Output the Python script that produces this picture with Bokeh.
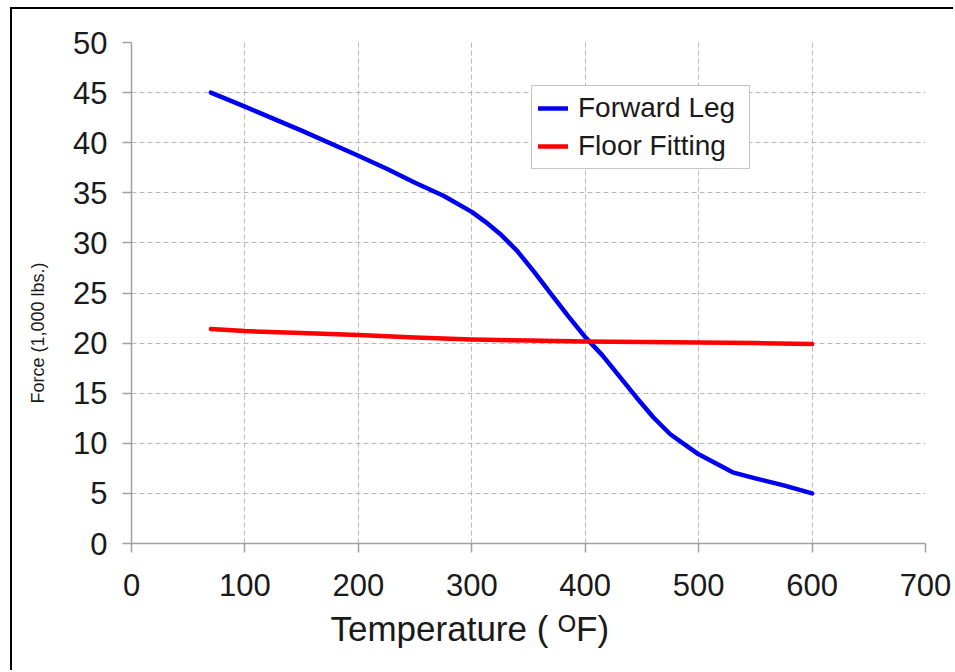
from bokeh.plotting import figure
from bokeh.models import Range1d, FixedTicker, Legend, LegendItem, Title
from bokeh.embed import file_html
from bokeh.resources import INLINE

# Data
temp_forward = [70, 100, 150, 200, 225, 250, 275, 300, 312, 325, 340, 355, 370, 385, 400, 415,
                430, 445, 460, 475, 490, 500, 515, 530, 550, 575, 600]
force_forward = [45.0, 43.6, 41.2, 38.7, 37.4, 36.0, 34.7, 33.1, 32.1, 30.9, 29.2, 27.1, 24.9,
                 22.7, 20.6, 18.8, 16.7, 14.6, 12.6, 10.9, 9.7, 8.9, 8.0, 7.1, 6.5, 5.8, 5.0]

temp_floor = [70, 100, 150, 200, 250, 300, 350, 400, 450, 500, 550, 600]
force_floor = [21.4, 21.2, 21.0, 20.8, 20.55, 20.35, 20.25, 20.15, 20.1, 20.05, 20.0, 19.9]

x_ticks = [0, 100, 200, 300, 400, 500, 600, 700]
y_ticks = [0, 5, 10, 15, 20, 25, 30, 35, 40, 45, 50]

x_title = "Temperature ( \u1D3CF)"
y_title = "Force (1,000 lbs.)"

FONT = "Liberation Sans"
GRID = "#b8b8b8"
AXIS = "#a0a0a0"

p = figure(width=953, height=670, output_backend="svg", toolbar_location=None,
           x_range=Range1d(0, 700), y_range=Range1d(0, 50),
           min_border_left=131, min_border_top=42, min_border_right=28, min_border_bottom=127)
p.outline_line_color = None
p.background_fill_color = "white"
p.border_fill_alpha = 0
# black page frame (top and left edges) drawn behind the transparent canvas border
p.styles = {
    "background-color": "white",
    "background-image": "linear-gradient(#000, #000), linear-gradient(#000, #000)",
    "background-position": "10px 7px, 10px 7px",
    "background-size": "2px 1000px, 2000px 2px",
    "background-repeat": "no-repeat",
}

p.xaxis.ticker = FixedTicker(ticks=x_ticks)
p.yaxis.ticker = FixedTicker(ticks=y_ticks)
for ax in (p.xaxis[0], p.yaxis[0]):
    ax.axis_line_color = AXIS
    ax.axis_line_width = 1.5
    ax.major_tick_line_color = AXIS
    ax.major_tick_line_width = 1.5
    ax.major_tick_in = 0
    ax.major_tick_out = 9
    ax.minor_tick_line_color = None
    ax.major_label_text_font = FONT
    ax.major_label_text_font_size = "31px"
    ax.major_label_text_color = "#1a1a1a"
p.xaxis.major_label_standoff = 21
p.yaxis.major_label_standoff = 15

# axis titles (offset from centre as in the reference)
xt = Title(text=x_title, align="left", offset=199, text_font=FONT, text_font_size="35px",
           text_font_style="normal", text_color="#1a1a1a", standoff=16)
p.add_layout(xt, "below")
yt = Title(text=y_title, align="left", offset=140, text_font=FONT, text_font_size="18px",
           text_font_style="normal", text_color="#1a1a1a", standoff=45)
p.add_layout(yt, "left")

for g in (p.xgrid[0], p.ygrid[0]):
    g.grid_line_color = GRID
    g.grid_line_dash = "5 3"
    g.grid_line_width = 1

r1 = p.line(temp_forward, force_forward, line_color="#0000F0", line_width=4.5, line_join="round", line_cap="round")
r2 = p.line(temp_floor, force_floor, line_color="#FF0000", line_width=4.5, line_join="round", line_cap="round")

legend = Legend(items=[LegendItem(label="Forward Leg", renderers=[r1]),
                       LegendItem(label="Floor Fitting", renderers=[r2])],
                location=(400, 374))
legend.label_text_font = FONT
legend.label_text_font_size = "28px"
legend.label_text_color = "#1a1a1a"
legend.border_line_color = "#8c8c8c"
legend.border_line_width = 1
legend.background_fill_color = "white"
legend.background_fill_alpha = 1
legend.padding = 6
legend.spacing = 6
legend.glyph_width = 30
legend.glyph_height = 30
legend.label_standoff = 10
legend.label_width = 165
legend.margin = 0
p.add_layout(legend, "center")

open("out.html", "w").write(file_html(p, INLINE))
